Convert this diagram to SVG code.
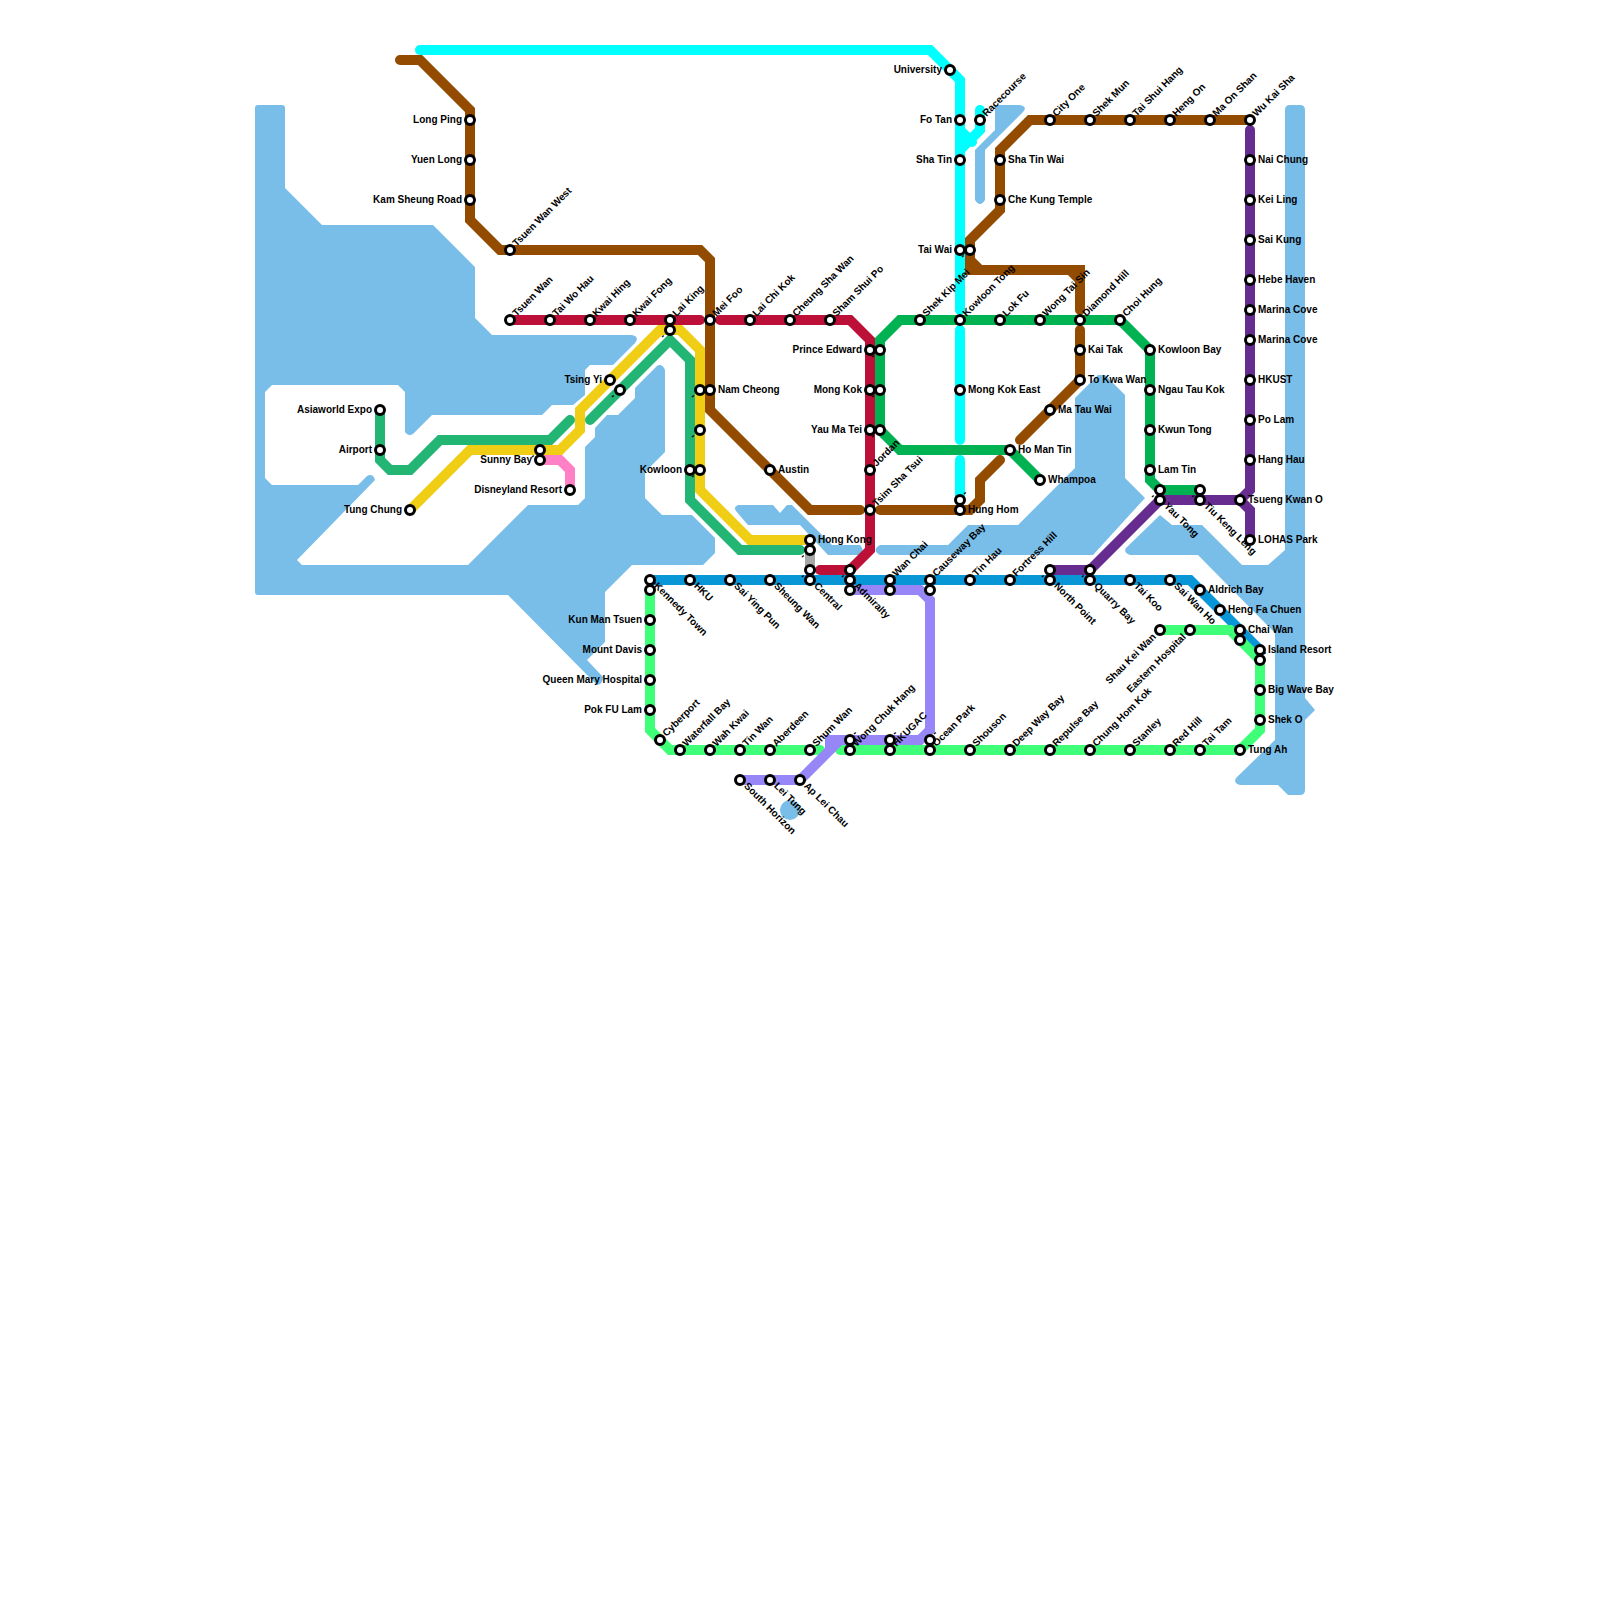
<svg xmlns="http://www.w3.org/2000/svg" width="1600" height="1600" viewBox="0 0 1600 1600">
<style>
.w{fill:#79bde9;stroke:none}
.c{fill:none;stroke-width:10;stroke-linecap:round;stroke-linejoin:miter}
.s{fill:#fff;stroke:#000;stroke-width:3}
text{font-family:"Liberation Sans",Arial,sans-serif;font-size:10px;font-weight:700;fill:#000}
.e{text-anchor:end}
</style>
<rect width="1600" height="1600" fill="#fff"/>
<g id="water">
<path class="w" d="M255,108Q255,105 258,105H282Q285,105 285,108V188L322,225H433L475,267V318L492,335H632Q640,337 635,343L613,365H590L585,370V395L573,405H552L542,415H432L413,434Q408,437 405,432V392L398,385H272L265,392V478L272,485H358L367,476Q373,473 375,480L297,560L302,565H468L528,505H578L585,498V447L595,437V428L607,415H618L635,398V388L657,366Q662,363 665,370V452L645,472V498L662,515H692L715,538V553L703,565H632L605,592V642L587,660L603,677Q603,684 597,685L508,595H258Q255,595 255,592Z"/>
<path class="w" d="M736,511Q733,507 738,505H773L780,513L787,505H792L832,545H860Q865,550 860,555H828L800,525H748Z"/>
<path class="w" d="M880,555Q871,550 880,545H948L968,525H1018L1075,468V398L1098,375H1105L1125,395V478L1145,498L1093,555Z"/>
<path class="w" d="M1130,555Q1122,552 1127,547L1160,515L1172,525H1202L1242,565H1268L1285,550V110Q1285,105 1290,105H1300Q1305,105 1305,110V698L1315,710L1305,720V790Q1305,795 1300,795H1288L1278,785H1240Q1233,783 1236,778L1275,740V633L1198,555Z"/>
<path class="w" d="M975,150L995,130V105H1020Q1028,107 1023,112L985,150V200Q980,208 975,200Z"/>
<circle class="w" cx="790" cy="810" r="10"/>
</g>
<g id="connectors">
<path class="c" stroke="#00ffff" d="M420,50H930L960,80V310M960,330V440M960,460V500M980,110V130L960,150M960,130L972,142"/>
<path class="c" stroke="#934b00" d="M400,60H420L470,110V220L500,250H700L710,260V410L810,510H860M880,510H970L980,500V480L1000,460M1020,440L1080,380V330M1080,310V270H970V240L1000,210V150L1030,120H1250M970,260L980,270M1070,270L1080,280"/>
<path class="c" stroke="#bd1038" d="M510,320H700M720,320H850L870,340V550L850,570H820"/>
<path class="c" stroke="#00b251" d="M880,430V340L900,320H1120L1150,350V480L1160,490H1200M880,430L900,450H1010L1040,480"/>
<path class="c" stroke="#f0ce15" d="M410,510L470,450H560L580,430V410L660,330H680L700,350V490L750,540H810"/>
<path class="c" stroke="#22b573" d="M380,410V460L390,470H410L440,440H550L570,420M590,420L670,340L690,360V500L740,550H800"/>
<path class="c" stroke="#ff80c5" d="M540,460H560L570,470V490"/>
<path class="c" stroke="#a7a7a7" d="M810,550V570"/>
<path class="c" stroke="#0896d7" d="M650,580H1190L1260,650"/>
<path class="c" stroke="#3fff78" d="M650,590V730L670,750H820M840,750H1240L1260,730V660L1230,630H1160"/>
<path class="c" stroke="#9686f7" d="M740,780H800L840,740M830,750V740H920L930,730V600L920,590H850"/>
<path class="c" stroke="#662c90" d="M1050,570H1090L1160,500H1240L1250,490V130M1240,500L1250,510V540"/>
</g>
<g id="stations">
<g id="long-ping"><circle class="s" cx="470" cy="120" r="4.5"/><text class="e" x="462" y="123">Long Ping</text></g>
<g id="yuen-long"><circle class="s" cx="470" cy="160" r="4.5"/><text class="e" x="462" y="163">Yuen Long</text></g>
<g id="kam-sheung-road"><circle class="s" cx="470" cy="200" r="4.5"/><text class="e" x="462" y="203">Kam Sheung Road</text></g>
<g id="asiaworld-expo"><circle class="s" cx="380" cy="410" r="4.5"/><text class="e" x="372" y="413">Asiaworld Expo</text></g>
<g id="airport"><circle class="s" cx="380" cy="450" r="4.5"/><text class="e" x="372" y="453">Airport</text></g>
<g id="tung-chung"><circle class="s" cx="410" cy="510" r="4.5"/><text class="e" x="402" y="513">Tung Chung</text></g>
<g id="sunny-bay"><circle class="s" cx="540" cy="460" r="4.5"/><text class="e" x="532" y="463">Sunny Bay</text></g>
<g id="disneyland-resort"><circle class="s" cx="570" cy="490" r="4.5"/><text class="e" x="562" y="493">Disneyland Resort</text></g>
<g id="tsing-yi"><circle class="s" cx="610" cy="380" r="4.5"/><text class="e" x="602" y="383">Tsing Yi</text></g>
<g id="kowloon"><circle class="s" cx="690" cy="470" r="4.5"/><text class="e" x="682" y="473">Kowloon</text></g>
<g id="prince-edward"><circle class="s" cx="870" cy="350" r="4.5"/><text class="e" x="862" y="353">Prince Edward</text></g>
<g id="mong-kok"><circle class="s" cx="870" cy="390" r="4.5"/><text class="e" x="862" y="393">Mong Kok</text></g>
<g id="yau-ma-tei"><circle class="s" cx="870" cy="430" r="4.5"/><text class="e" x="862" y="433">Yau Ma Tei</text></g>
<g id="university"><circle class="s" cx="950" cy="70" r="4.5"/><text class="e" x="942" y="73">University</text></g>
<g id="fo-tan"><circle class="s" cx="960" cy="120" r="4.5"/><text class="e" x="952" y="123">Fo Tan</text></g>
<g id="sha-tin"><circle class="s" cx="960" cy="160" r="4.5"/><text class="e" x="952" y="163">Sha Tin</text></g>
<g id="tai-wai"><circle class="s" cx="960" cy="250" r="4.5"/><text class="e" x="952" y="253">Tai Wai</text></g>
<g id="kun-man-tsuen"><circle class="s" cx="650" cy="620" r="4.5"/><text class="e" x="642" y="623">Kun Man Tsuen</text></g>
<g id="mount-davis"><circle class="s" cx="650" cy="650" r="4.5"/><text class="e" x="642" y="653">Mount Davis</text></g>
<g id="queen-mary-hospital"><circle class="s" cx="650" cy="680" r="4.5"/><text class="e" x="642" y="683">Queen Mary Hospital</text></g>
<g id="pok-fu-lam"><circle class="s" cx="650" cy="710" r="4.5"/><text class="e" x="642" y="713">Pok FU Lam</text></g>

<g id="nam-cheong"><circle class="s" cx="710" cy="390" r="4.5"/><text x="718" y="393">Nam Cheong</text></g>
<g id="austin"><circle class="s" cx="770" cy="470" r="4.5"/><text x="778" y="473">Austin</text></g>
<g id="hong-kong"><circle class="s" cx="810" cy="540" r="4.5"/><text x="818" y="543">Hong Kong</text></g>
<g id="mong-kok-east"><circle class="s" cx="960" cy="390" r="4.5"/><text x="968" y="393">Mong Kok East</text></g>
<g id="hung-hom"><circle class="s" cx="960" cy="510" r="4.5"/><text x="968" y="513">Hung Hom</text></g>
<g id="ho-man-tin"><circle class="s" cx="1010" cy="450" r="4.5"/><text x="1018" y="453">Ho Man Tin</text></g>
<g id="whampoa"><circle class="s" cx="1040" cy="480" r="4.5"/><text x="1048" y="483">Whampoa</text></g>
<g id="ma-tau-wai"><circle class="s" cx="1050" cy="410" r="4.5"/><text x="1058" y="413">Ma Tau Wai</text></g>
<g id="to-kwa-wan"><circle class="s" cx="1080" cy="380" r="4.5"/><text x="1088" y="383">To Kwa Wan</text></g>
<g id="kai-tak"><circle class="s" cx="1080" cy="350" r="4.5"/><text x="1088" y="353">Kai Tak</text></g>
<g id="kowloon-bay"><circle class="s" cx="1150" cy="350" r="4.5"/><text x="1158" y="353">Kowloon Bay</text></g>
<g id="ngau-tau-kok"><circle class="s" cx="1150" cy="390" r="4.5"/><text x="1158" y="393">Ngau Tau Kok</text></g>
<g id="kwun-tong"><circle class="s" cx="1150" cy="430" r="4.5"/><text x="1158" y="433">Kwun Tong</text></g>
<g id="lam-tin"><circle class="s" cx="1150" cy="470" r="4.5"/><text x="1158" y="473">Lam Tin</text></g>
<g id="sha-tin-wai"><circle class="s" cx="1000" cy="160" r="4.5"/><text x="1008" y="163">Sha Tin Wai</text></g>
<g id="che-kung-temple"><circle class="s" cx="1000" cy="200" r="4.5"/><text x="1008" y="203">Che Kung Temple</text></g>
<g id="nai-chung"><circle class="s" cx="1250" cy="160" r="4.5"/><text x="1258" y="163">Nai Chung</text></g>
<g id="kei-ling"><circle class="s" cx="1250" cy="200" r="4.5"/><text x="1258" y="203">Kei Ling</text></g>
<g id="sai-kung"><circle class="s" cx="1250" cy="240" r="4.5"/><text x="1258" y="243">Sai Kung</text></g>
<g id="hebe-haven"><circle class="s" cx="1250" cy="280" r="4.5"/><text x="1258" y="283">Hebe Haven</text></g>
<g id="marina-cove-1"><circle class="s" cx="1250" cy="310" r="4.5"/><text x="1258" y="313">Marina Cove</text></g>
<g id="marina-cove-2"><circle class="s" cx="1250" cy="340" r="4.5"/><text x="1258" y="343">Marina Cove</text></g>
<g id="hkust"><circle class="s" cx="1250" cy="380" r="4.5"/><text x="1258" y="383">HKUST</text></g>
<g id="po-lam"><circle class="s" cx="1250" cy="420" r="4.5"/><text x="1258" y="423">Po Lam</text></g>
<g id="hang-hau"><circle class="s" cx="1250" cy="460" r="4.5"/><text x="1258" y="463">Hang Hau</text></g>
<g id="tsueng-kwan-o"><circle class="s" cx="1240" cy="500" r="4.5"/><text x="1248" y="503">Tsueng Kwan O</text></g>
<g id="lohas-park"><circle class="s" cx="1250" cy="540" r="4.5"/><text x="1258" y="543">LOHAS Park</text></g>
<g id="aldrich-bay"><circle class="s" cx="1200" cy="590" r="4.5"/><text x="1208" y="593">Aldrich Bay</text></g>
<g id="heng-fa-chuen"><circle class="s" cx="1220" cy="610" r="4.5"/><text x="1228" y="613">Heng Fa Chuen</text></g>
<g id="chai-wan"><circle class="s" cx="1240" cy="630" r="4.5"/><text x="1248" y="633">Chai Wan</text></g>
<g id="island-resort"><circle class="s" cx="1260" cy="650" r="4.5"/><text x="1268" y="653">Island Resort</text></g>
<g id="big-wave-bay"><circle class="s" cx="1260" cy="690" r="4.5"/><text x="1268" y="693">Big Wave Bay</text></g>
<g id="shek-o"><circle class="s" cx="1260" cy="720" r="4.5"/><text x="1268" y="723">Shek O</text></g>
<g id="tung-ah"><circle class="s" cx="1240" cy="750" r="4.5"/><text x="1248" y="753">Tung Ah</text></g>

<g id="tsuen-wan-west"><circle class="s" cx="510" cy="250" r="4.5"/><text transform="translate(516.500,247) rotate(-45)">Tsuen Wan West</text></g>
<g id="tsuen-wan"><circle class="s" cx="510" cy="320" r="4.5"/><text transform="translate(516.500,317) rotate(-45)">Tsuen Wan</text></g>
<g id="tai-wo-hau"><circle class="s" cx="550" cy="320" r="4.5"/><text transform="translate(556.500,317) rotate(-45)">Tai Wo Hau</text></g>
<g id="kwai-hing"><circle class="s" cx="590" cy="320" r="4.5"/><text transform="translate(596.500,317) rotate(-45)">Kwai Hing</text></g>
<g id="kwai-fong"><circle class="s" cx="630" cy="320" r="4.5"/><text transform="translate(636.500,317) rotate(-45)">Kwai Fong</text></g>
<g id="lai-king"><circle class="s" cx="670" cy="320" r="4.5"/><text transform="translate(676.500,317) rotate(-45)">Lai King</text></g>
<g id="mei-foo"><circle class="s" cx="710" cy="320" r="4.5"/><text transform="translate(716.500,317) rotate(-45)">Mei Foo</text></g>
<g id="lai-chi-kok"><circle class="s" cx="750" cy="320" r="4.5"/><text transform="translate(756.500,317) rotate(-45)">Lai Chi Kok</text></g>
<g id="cheung-sha-wan"><circle class="s" cx="790" cy="320" r="4.5"/><text transform="translate(796.500,317) rotate(-45)">Cheung Sha Wan</text></g>
<g id="sham-shui-po"><circle class="s" cx="830" cy="320" r="4.5"/><text transform="translate(836.500,317) rotate(-45)">Sham Shui Po</text></g>
<g id="shek-kip-mei"><circle class="s" cx="920" cy="320" r="4.5"/><text transform="translate(926.500,317) rotate(-45)">Shek Kip Mei</text></g>
<g id="kowloon-tong"><circle class="s" cx="960" cy="320" r="4.5"/><text transform="translate(966.500,317) rotate(-45)">Kowloon Tong</text></g>
<g id="lok-fu"><circle class="s" cx="1000" cy="320" r="4.5"/><text transform="translate(1006.500,317) rotate(-45)">Lok Fu</text></g>
<g id="wong-tai-sin"><circle class="s" cx="1040" cy="320" r="4.5"/><text transform="translate(1046.500,317) rotate(-45)">Wong Tai Sin</text></g>
<g id="diamond-hill"><circle class="s" cx="1080" cy="320" r="4.5"/><text transform="translate(1086.500,317) rotate(-45)">Diamond Hill</text></g>
<g id="choi-hung"><circle class="s" cx="1120" cy="320" r="4.5"/><text transform="translate(1126.500,317) rotate(-45)">Choi Hung</text></g>
<g id="racecourse"><circle class="s" cx="980" cy="120" r="4.5"/><text transform="translate(986.500,117) rotate(-45)">Racecourse</text></g>
<g id="city-one"><circle class="s" cx="1050" cy="120" r="4.5"/><text transform="translate(1056.500,117) rotate(-45)">City One</text></g>
<g id="shek-mun"><circle class="s" cx="1090" cy="120" r="4.5"/><text transform="translate(1096.500,117) rotate(-45)">Shek Mun</text></g>
<g id="tai-shui-hang"><circle class="s" cx="1130" cy="120" r="4.5"/><text transform="translate(1136.500,117) rotate(-45)">Tai Shui Hang</text></g>
<g id="heng-on"><circle class="s" cx="1170" cy="120" r="4.5"/><text transform="translate(1176.500,117) rotate(-45)">Heng On</text></g>
<g id="ma-on-shan"><circle class="s" cx="1210" cy="120" r="4.5"/><text transform="translate(1216.500,117) rotate(-45)">Ma On Shan</text></g>
<g id="wu-kai-sha"><circle class="s" cx="1250" cy="120" r="4.5"/><text transform="translate(1256.500,117) rotate(-45)">Wu Kai Sha</text></g>
<g id="jordan"><circle class="s" cx="870" cy="470" r="4.5"/><text transform="translate(876.500,467) rotate(-45)">Jordan</text></g>
<g id="tsim-sha-tsui"><circle class="s" cx="870" cy="510" r="4.5"/><text transform="translate(876.500,507) rotate(-45)">Tsim Sha Tsui</text></g>
<g id="wan-chai"><circle class="s" cx="890" cy="580" r="4.5"/><text transform="translate(896.500,577) rotate(-45)">Wan Chai</text></g>
<g id="causeway-bay"><circle class="s" cx="930" cy="580" r="4.5"/><text transform="translate(936.500,577) rotate(-45)">Causeway Bay</text></g>
<g id="tin-hau"><circle class="s" cx="970" cy="580" r="4.5"/><text transform="translate(976.500,577) rotate(-45)">Tin Hau</text></g>
<g id="fortress-hill"><circle class="s" cx="1010" cy="580" r="4.5"/><text transform="translate(1016.500,577) rotate(-45)">Fortress Hill</text></g>
<g id="cyberport"><circle class="s" cx="660" cy="740" r="4.5"/><text transform="translate(666.500,737) rotate(-45)">Cyberport</text></g>
<g id="waterfall-bay"><circle class="s" cx="680" cy="750" r="4.5"/><text transform="translate(686.500,747) rotate(-45)">Waterfall Bay</text></g>
<g id="wah-kwai"><circle class="s" cx="710" cy="750" r="4.5"/><text transform="translate(716.500,747) rotate(-45)">Wah Kwai</text></g>
<g id="tin-wan"><circle class="s" cx="740" cy="750" r="4.5"/><text transform="translate(746.500,747) rotate(-45)">Tin Wan</text></g>
<g id="aberdeen"><circle class="s" cx="770" cy="750" r="4.5"/><text transform="translate(776.500,747) rotate(-45)">Aberdeen</text></g>
<g id="shum-wan"><circle class="s" cx="810" cy="750" r="4.5"/><text transform="translate(816.500,747) rotate(-45)">Shum Wan</text></g>
<g id="wong-chuk-hang"><circle class="s" cx="850" cy="750" r="4.5"/><text transform="translate(856.500,747) rotate(-45)">Wong Chuk Hang</text></g>
<g id="hkugac"><circle class="s" cx="890" cy="750" r="4.5"/><text transform="translate(896.500,747) rotate(-45)">HKUGAC</text></g>
<g id="ocean-park"><circle class="s" cx="930" cy="750" r="4.5"/><text transform="translate(936.500,747) rotate(-45)">Ocean Park</text></g>
<g id="shouson"><circle class="s" cx="970" cy="750" r="4.5"/><text transform="translate(976.500,747) rotate(-45)">Shouson</text></g>
<g id="deep-way-bay"><circle class="s" cx="1010" cy="750" r="4.5"/><text transform="translate(1016.500,747) rotate(-45)">Deep Way Bay</text></g>
<g id="repulse-bay"><circle class="s" cx="1050" cy="750" r="4.5"/><text transform="translate(1056.500,747) rotate(-45)">Repulse Bay</text></g>
<g id="chung-hom-kok"><circle class="s" cx="1090" cy="750" r="4.5"/><text transform="translate(1096.500,747) rotate(-45)">Chung Hom Kok</text></g>
<g id="stanley"><circle class="s" cx="1130" cy="750" r="4.5"/><text transform="translate(1136.500,747) rotate(-45)">Stanley</text></g>
<g id="red-hill"><circle class="s" cx="1170" cy="750" r="4.5"/><text transform="translate(1176.500,747) rotate(-45)">Red Hill</text></g>
<g id="tai-tam"><circle class="s" cx="1200" cy="750" r="4.5"/><text transform="translate(1206.500,747) rotate(-45)">Tai Tam</text></g>

<g id="shau-kei-wan"><circle class="s" cx="1160" cy="630" r="4.5"/><text class="e" transform="translate(1156.500,637.500) rotate(-45)">Shau Kei Wan</text></g>
<g id="eastern-hospital"><circle class="s" cx="1190" cy="630" r="4.5"/><text class="e" transform="translate(1186.500,637.500) rotate(-45)">Eastern Hospital</text></g>

<g id="kennedy-town"><circle class="s" cx="650" cy="580" r="4.5"/><text transform="translate(653.500,586.500) rotate(45)">Kennedy Town</text></g>
<g id="hku"><circle class="s" cx="690" cy="580" r="4.5"/><text transform="translate(693.500,586.500) rotate(45)">HKU</text></g>
<g id="sai-ying-pun"><circle class="s" cx="730" cy="580" r="4.5"/><text transform="translate(733.500,586.500) rotate(45)">Sai Ying Pun</text></g>
<g id="sheung-wan"><circle class="s" cx="770" cy="580" r="4.5"/><text transform="translate(773.500,586.500) rotate(45)">Sheung Wan</text></g>
<g id="central"><circle class="s" cx="810" cy="580" r="4.5"/><text transform="translate(813.500,586.500) rotate(45)">Central</text></g>
<g id="admiralty"><circle class="s" cx="850" cy="580" r="4.5"/><text transform="translate(853.500,586.500) rotate(45)">Admiralty</text></g>
<g id="north-point"><circle class="s" cx="1050" cy="580" r="4.5"/><text transform="translate(1053.500,586.500) rotate(45)">North Point</text></g>
<g id="quarry-bay"><circle class="s" cx="1090" cy="580" r="4.5"/><text transform="translate(1093.500,586.500) rotate(45)">Quarry Bay</text></g>
<g id="tai-koo"><circle class="s" cx="1130" cy="580" r="4.5"/><text transform="translate(1133.500,586.500) rotate(45)">Tai Koo</text></g>
<g id="sai-wan-ho"><circle class="s" cx="1170" cy="580" r="4.5"/><text transform="translate(1173.500,586.500) rotate(45)">Sai Wan Ho</text></g>
<g id="yau-tong"><circle class="s" cx="1160" cy="500" r="4.5"/><text transform="translate(1163.500,506.500) rotate(45)">Yau Tong</text></g>
<g id="tiu-keng-leng"><circle class="s" cx="1200" cy="500" r="4.5"/><text transform="translate(1203.500,506.500) rotate(45)">Tiu Keng Leng</text></g>
<g id="south-horizon"><circle class="s" cx="740" cy="780" r="4.5"/><text transform="translate(743.500,786.500) rotate(45)">South Horizon</text></g>
<g id="lei-tung"><circle class="s" cx="770" cy="780" r="4.5"/><text transform="translate(773.500,786.500) rotate(45)">Lei Tung</text></g>
<g id="ap-lei-chau"><circle class="s" cx="800" cy="780" r="4.5"/><text transform="translate(803.500,786.500) rotate(45)">Ap Lei Chau</text></g>

<g id="u1"><circle class="s" cx="670" cy="330" r="4.5"/><text transform="translate(658,339.500) rotate(45)">'</text></g>
<g id="u2"><circle class="s" cx="620" cy="390" r="4.5"/><text transform="translate(608,399.500) rotate(45)">'</text></g>
<g id="u3"><circle class="s" cx="700" cy="390" r="4.5"/><text transform="translate(688,399.500) rotate(45)">'</text></g>
<g id="u4"><circle class="s" cx="700" cy="430" r="4.5"/><text transform="translate(688,439.500) rotate(45)">'</text></g>
<g id="u5"><circle class="s" cx="700" cy="470" r="4.5"/><text transform="translate(688,479.500) rotate(45)">'</text></g>
<g id="u6"><circle class="s" cx="880" cy="350" r="4.5"/><text transform="translate(868,359.500) rotate(45)">'</text></g>
<g id="u7"><circle class="s" cx="880" cy="390" r="4.5"/><text transform="translate(868,399.500) rotate(45)">'</text></g>
<g id="u8"><circle class="s" cx="880" cy="430" r="4.5"/><text transform="translate(868,439.500) rotate(45)">'</text></g>
<g id="u9"><circle class="s" cx="810" cy="550" r="4.5"/><text transform="translate(798,559.500) rotate(45)">'</text></g>
<g id="u10"><circle class="s" cx="810" cy="570" r="4.5"/><text transform="translate(798,579.500) rotate(45)">'</text></g>
<g id="u11"><circle class="s" cx="850" cy="570" r="4.5"/><text transform="translate(838,579.500) rotate(45)">'</text></g>
<g id="u12"><circle class="s" cx="540" cy="450" r="4.5"/><text transform="translate(528,459.500) rotate(45)">'</text></g>
<g id="u13"><circle class="s" cx="970" cy="250" r="4.5"/><text transform="translate(958,259.500) rotate(45)">'</text></g>
<g id="u14"><circle class="s" cx="1050" cy="570" r="4.5"/><text transform="translate(1038,579.500) rotate(45)">'</text></g>
<g id="u15"><circle class="s" cx="1090" cy="570" r="4.5"/><text transform="translate(1078,579.500) rotate(45)">'</text></g>
<g id="u16"><circle class="s" cx="1160" cy="490" r="4.5"/><text transform="translate(1148,499.500) rotate(45)">'</text></g>
<g id="u17"><circle class="s" cx="1200" cy="490" r="4.5"/><text transform="translate(1188,499.500) rotate(45)">'</text></g>
<g id="u18"><circle class="s" cx="890" cy="590" r="4.5"/><text transform="translate(890,586.500) rotate(45)">'</text></g>
<g id="u19"><circle class="s" cx="930" cy="590" r="4.5"/><text transform="translate(930,586.500) rotate(45)">'</text></g>
<g id="u20"><circle class="s" cx="960" cy="500" r="4.5"/><text transform="translate(960,496.500) rotate(45)">'</text></g>
<g id="u21"><circle class="s" cx="850" cy="740" r="4.5"/><text transform="translate(850,736.500) rotate(45)">'</text></g>
<g id="u22"><circle class="s" cx="890" cy="740" r="4.5"/><text transform="translate(890,736.500) rotate(45)">'</text></g>
<g id="u23"><circle class="s" cx="930" cy="740" r="4.5"/><text transform="translate(930,736.500) rotate(45)">'</text></g>
<g id="u24"><circle class="s" cx="1240" cy="640" r="4.5"/><text transform="translate(1240,636.500) rotate(45)">'</text></g>
<g id="u25"><circle class="s" cx="1260" cy="660" r="4.5"/><text transform="translate(1260,656.500) rotate(45)">'</text></g>
<g id="u26"><circle class="s" cx="650" cy="590" r="4.5"/><text transform="translate(650,586.500) rotate(45)">'</text></g>
<g id="u27"><circle class="s" cx="850" cy="590" r="4.5"/><text transform="translate(850,586.500) rotate(45)">'</text></g>
</g>
</svg>
